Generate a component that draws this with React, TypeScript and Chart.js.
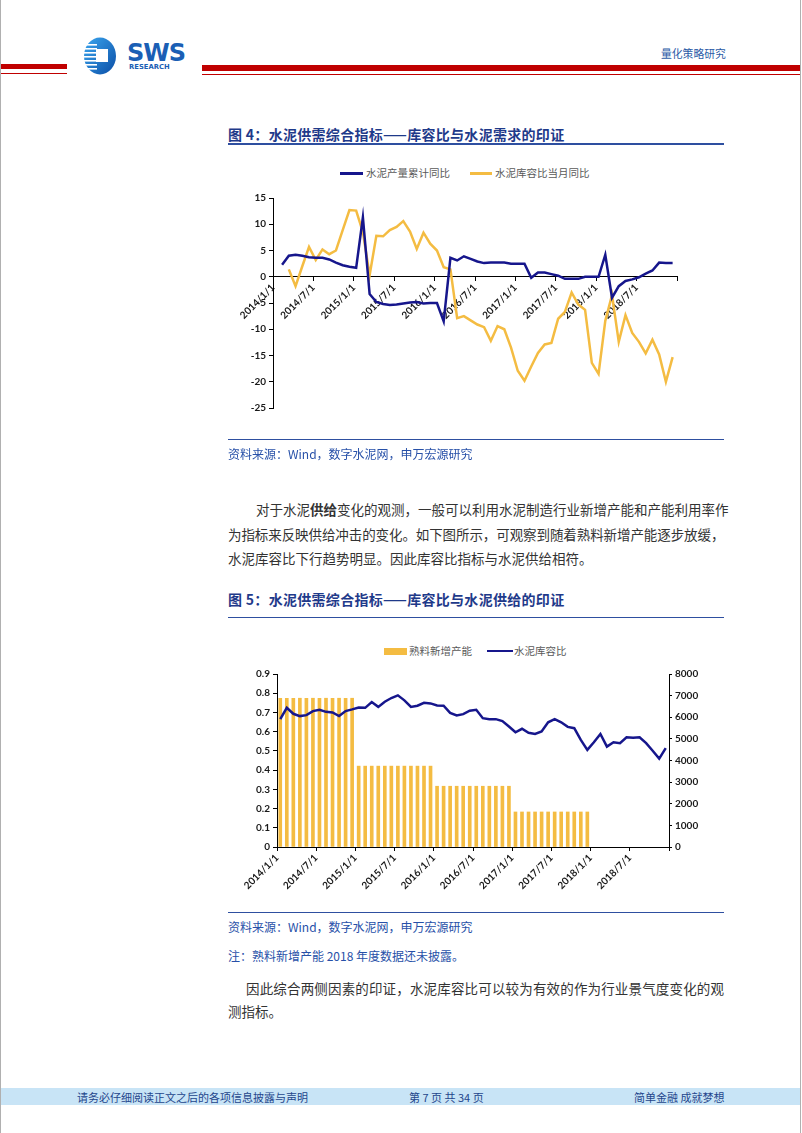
import React, { useEffect, useRef } from 'react';
import { Chart, registerables } from 'chart.js';

Chart.register(...registerables);

// ---------------- data ----------------
const xTickLabels = ['2014/1/1', '2014/7/1', '2015/1/1', '2015/7/1', '2016/1/1', '2016/7/1', '2017/1/1', '2017/7/1', '2018/1/1', '2018/7/1'];

// Figure 4 (monthly, months counted from 2014/1)
const productionStartMonth = 1; // 2014/2
const productionYoY = [
  2.3, 4.0, 4.2, 4.0, 3.7, 3.6, 3.6, 3.3, 2.7, 2.2, 1.9, 1.7,
  11.3, -3.3, -4.8, -5.2, -5.4, -5.3, -5.1, -4.9, -4.8, -5.1, -5.0, -5.0,
  -8.5, 3.6, 3.1, 3.9, 3.4, 2.9, 2.6, 2.7, 2.7, 2.7, 2.5, 2.5,
  2.5, -0.2, 0.8, 0.8, 0.5, 0.2, -0.4, -0.4, -0.4, 0.0, 0.0, 0.0,
  4.2, -4.0, -1.8, -0.8, -0.5, -0.1, 0.6, 1.2, 2.7, 2.6, 2.6,
];
const ratioYoYStartMonth = 2; // 2014/3
const ratioYoY = [
  1.4, -1.8, 2.0, 5.7, 3.2, 5.2, 4.3, 5.0, 8.9, 12.7,
  12.6, 8.5, 0.3, 7.8, 7.7, 8.9, 9.5, 10.6, 8.6, 5.3, 8.4, 6.3,
  5.0, 1.8, 1.4, -7.9, -7.5, -8.3, -9.1, -9.6, -12.2, -9.4, -10.0, -13.5,
  -17.9, -19.8, -17.1, -14.5, -12.9, -12.6, -8.0, -6.7, -3.0, -5.3, -6.3, -16.4,
  -18.5, -8.4, -3.5, -12.4, -7.3, -10.7, -12.4, -14.6, -12.0, -14.8, -20.0, -15.3,
];

// Figure 5
const inventoryRatioStartMonth = 0; // 2014/1
const inventoryRatio = [
  0.665, 0.724, 0.693, 0.681, 0.686, 0.707, 0.714, 0.703, 0.700, 0.681, 0.707, 0.716,
  0.726, 0.724, 0.754, 0.729, 0.756, 0.775, 0.789, 0.763, 0.729, 0.735, 0.750, 0.747,
  0.736, 0.735, 0.698, 0.684, 0.691, 0.709, 0.714, 0.670, 0.665, 0.665, 0.655, 0.627,
  0.597, 0.615, 0.594, 0.588, 0.601, 0.649, 0.665, 0.649, 0.625, 0.618, 0.557, 0.505,
  0.545, 0.588, 0.522, 0.545, 0.540, 0.571, 0.568, 0.571, 0.540, 0.501, 0.460, 0.514,
];
const clinkerYears = [2014, 2015, 2016, 2017];
const clinkerNewCapacity = [6880, 3740, 2810, 1620];

// ---------------- style ----------------
const NAVY = '#16168c';
const GOLD = '#f4bc42';
const CJK = '"Noto Sans CJK SC", "Noto Sans", sans-serif';
const TICK_FONT = { family: 'Lato, "DejaVu Sans", sans-serif', size: 10, weight: 'bold' as const };
const TICK_COLOR = '#1a1a1a';

const toPoints = (start: number, values: number[], offset: number) =>
  values.map((v, i) => ({ x: start + i + offset, y: v }));

const monthLabel = (v: number) => {
  const idx = Math.round(v / 6);
  return Math.abs(v - idx * 6) < 1e-6 && idx < xTickLabels.length ? xTickLabels[idx] : '';
};

function Fig4Chart() {
  const ref = useRef<HTMLCanvasElement>(null);
  useEffect(() => {
    if (!ref.current) return;
    const chart = new Chart(ref.current, {
      type: 'line',
      data: {
        datasets: [
          {
            label: '水泥产量累计同比',
            data: toPoints(productionStartMonth, productionYoY, 0.35),
            borderColor: NAVY,
            borderWidth: 2.5,
            pointRadius: 0,
            tension: 0,
          },
          {
            label: '水泥库容比当月同比',
            data: toPoints(ratioYoYStartMonth, ratioYoY, 0.35),
            borderColor: GOLD,
            borderWidth: 2.5,
            pointRadius: 0,
            tension: 0,
          },
        ],
      },
      options: {
        animation: false,
        responsive: false,
        devicePixelRatio: 1,
        layout: { padding: { left: 0, right: 47, top: 48, bottom: 32 } },
        plugins: { legend: { display: false }, tooltip: { enabled: false } },
        scales: {
          x: {
            type: 'linear',
            min: 0,
            max: 60,
            position: { y: 0 } as any,
            ticks: {
              stepSize: 6,
              autoSkip: false,
              minRotation: 45,
              maxRotation: 45,
              font: TICK_FONT,
              color: TICK_COLOR,
              padding: 1,
              callback: (v: any) => monthLabel(Number(v)),
            },
            grid: { drawOnChartArea: false, drawTicks: true, tickLength: 4, color: '#000' },
            border: { color: '#000', width: 1 },
          },
          y: {
            min: -25,
            max: 15,
            ticks: { stepSize: 5, font: TICK_FONT, color: TICK_COLOR, padding: 3, callback: (v: any) => String(v) },
            grid: { drawOnChartArea: false, drawTicks: true, tickLength: 4, color: '#000' },
            border: { color: '#000', width: 1 },
            afterFit: (s: any) => { s.width = 45; },
          },
        },
      },
    });
    return () => chart.destroy();
  }, []);
  return <canvas ref={ref} width={496} height={290} style={{ width: 496, height: 290, display: 'block' }} />;
}

function Fig5Chart() {
  const ref = useRef<HTMLCanvasElement>(null);
  useEffect(() => {
    if (!ref.current) return;
    const barPoints: { x: number; y: number }[] = [];
    clinkerYears.forEach((yr, k) => {
      for (let m = 0; m < 12; m++) {
        barPoints.push({ x: (yr - 2014) * 12 + m + 0.5, y: clinkerNewCapacity[k] });
      }
    });
    const chart = new Chart(ref.current, {
      type: 'bar',
      data: {
        datasets: [
          {
            type: 'line',
            label: '水泥库容比',
            data: toPoints(inventoryRatioStartMonth, inventoryRatio, 0.5),
            borderColor: NAVY,
            borderWidth: 2.5,
            pointRadius: 0,
            tension: 0,
            yAxisID: 'y',
          } as any,
          {
            type: 'bar',
            label: '熟料新增产能',
            data: barPoints,
            backgroundColor: GOLD,
            barThickness: 3,
            grouped: false,
            yAxisID: 'y1',
          },
        ],
      },
      options: {
        animation: false,
        responsive: false,
        devicePixelRatio: 1,
        layout: { padding: { left: 0, right: 0, top: 52, bottom: 0 } },
        plugins: { legend: { display: false }, tooltip: { enabled: false } },
        scales: {
          x: {
            type: 'linear',
            min: 0,
            max: 60,
            offset: false,
            position: 'bottom',
            ticks: {
              stepSize: 6,
              autoSkip: false,
              minRotation: 45,
              maxRotation: 45,
              font: TICK_FONT,
              color: TICK_COLOR,
              padding: 1,
              callback: (v: any) => monthLabel(Number(v)),
            },
            grid: { drawOnChartArea: false, drawTicks: true, tickLength: 4, color: '#000', offset: false },
            border: { color: '#000', width: 1 },
            afterFit: (s: any) => { s.height = 65; },
          },
          y: {
            position: 'left',
            min: 0,
            max: 0.9,
            ticks: {
              stepSize: 0.1,
              font: TICK_FONT,
              color: TICK_COLOR,
              padding: 3,
              callback: (v: any) => String(Number(Number(v).toFixed(1))),
            },
            grid: { drawOnChartArea: false, drawTicks: true, tickLength: 4, color: '#000' },
            border: { color: '#000', width: 1 },
            afterFit: (s: any) => { s.width = 49; },
          },
          y1: {
            position: 'right',
            min: 0,
            max: 8000,
            ticks: {
              stepSize: 1000,
              font: TICK_FONT,
              color: TICK_COLOR,
              padding: 3,
              callback: (v: any) => String(Math.round(Number(v))),
            },
            grid: { drawOnChartArea: false, drawTicks: true, tickLength: 3, color: '#000' },
            border: { color: '#000', width: 1 },
            afterFit: (s: any) => { s.width = 55; },
          },
        },
      },
    });
    return () => chart.destroy();
  }, []);
  return <canvas ref={ref} width={496} height={290} style={{ width: 496, height: 290, display: 'block' }} />;
}

// ---------------- page helpers ----------------
const abs = (x: number, y: number, extra: React.CSSProperties = {}): React.CSSProperties => ({
  position: 'absolute', left: x, top: y, ...extra,
});

function TextLine(props: { x: number; cy: number; size: number; color: string; children: React.ReactNode; bold?: boolean; width?: number; justify?: boolean; ls?: number }) {
  const h = props.size + 6;
  return (
    <div
      style={{
        position: 'absolute',
        left: props.x,
        top: props.cy - h / 2,
        height: h,
        lineHeight: `${h}px`,
        fontSize: props.size,
        color: props.color,
        fontFamily: CJK,
        fontWeight: props.bold ? 700 : 400,
        whiteSpace: 'nowrap',
        width: props.width,
        textAlign: props.justify ? 'justify' : 'left',
        textAlignLast: props.justify ? 'justify' : 'auto',
        letterSpacing: props.ls ?? 0,
      } as React.CSSProperties}
    >
      {props.children}
    </div>
  );
}

function Rule(props: { x: number; y: number; w: number; h: number; color: string }) {
  return <div style={abs(props.x, props.y, { width: props.w, height: props.h, background: props.color })} />;
}

function Logo() {
  return (
    <svg style={abs(80, 34)} width={112} height={44} viewBox="80 34 112 44">
      <defs>
        <linearGradient id="lg" x1="0" y1="0" x2="1" y2="1">
          <stop offset="0" stopColor="#3aa6ef" />
          <stop offset="1" stopColor="#0b4ea6" />
        </linearGradient>
      </defs>
      <ellipse cx={100} cy={56} rx={16} ry={18.5} fill="url(#lg)" />
      {[44, 48, 52, 56, 60, 64, 68].map((y) => (
        <rect key={y} x={84} y={y} width={13} height={1.6} fill="#ffffff" />
      ))}
      <rect x={96} y={49} width={12} height={13} fill="#ffffff" />
      <text x={127} y={61} fontFamily='"DejaVu Sans", sans-serif' fontWeight={700} fontSize={24} fill="#1b5fb5" letterSpacing={-1}>SWS</text>
      <text x={129} y={68.5} fontFamily='"DejaVu Sans", sans-serif' fontWeight={700} fontSize={6.8} fill="#1b5fb5">RESEARCH</text>
    </svg>
  );
}

function LegendLine(props: { x: number; y: number; w: number; color: string }) {
  return <div style={abs(props.x, props.y - 1.25, { width: props.w, height: 2.5, background: props.color })} />;
}

export default function App() {
  const titleColor = '#1f3a8a';
  const srcColor = '#2750a8';
  const bodyColor = '#333333';
  const legendColor = '#595959';
  return (
    <div style={{ position: 'absolute', left: 0, top: 0, width: 802, height: 1133, background: '#ffffff', overflow: 'hidden', fontFamily: CJK }}>
      {/* page borders */}
      <Rule x={0} y={0} w={1} h={1133} color="#b0b0b0" />
      <Rule x={800} y={0} w={1} h={1133} color="#b0b0b0" />

      {/* header */}
      <Rule x={1} y={63.5} w={66} h={5.5} color="#c00000" />
      <Rule x={1} y={73} w={66} h={1.3} color="#c00000" />
      <Rule x={202} y={65} w={598} h={5.5} color="#c00000" />
      <Rule x={202} y={73.5} w={598} h={1.3} color="#c00000" />
      <Logo />
      <TextLine x={661} cy={53} size={10.8} color="#2a5aa6">量化策略研究</TextLine>

      {/* Figure 4 */}
      <TextLine x={228} cy={134} size={14} color={titleColor} bold ls={0.3}>图 4：水泥供需综合指标——库容比与水泥需求的印证</TextLine>
      <Rule x={228} y={143} w={496} h={1.5} color="#2e4fa0" />
      <LegendLine x={340} y={173.5} w={23} color={NAVY} />
      <TextLine x={366} cy={173.5} size={10.5} color={legendColor}>水泥产量累计同比</TextLine>
      <LegendLine x={470} y={173.5} w={22} color={GOLD} />
      <TextLine x={495} cy={173.5} size={10.5} color={legendColor}>水泥库容比当月同比</TextLine>
      <div style={abs(228, 150)}>
        <Fig4Chart />
      </div>
      <Rule x={228} y={439} w={496} h={1.3} color="#2e4fa0" />
      <TextLine x={228} cy={454} size={12} color={srcColor}>资料来源：Wind，数字水泥网，申万宏源研究</TextLine>

      {/* Body paragraph */}
      <TextLine x={256} cy={510} size={13.5} color={bodyColor} width={468} justify>
        对于水泥<b>供给</b>变化的观测，一般可以利用水泥制造行业新增产能和产能利用率作
      </TextLine>
      <TextLine x={228} cy={534.5} size={13.5} color={bodyColor} width={496} justify ls={-0.4}>
        为指标来反映供给冲击的变化。如下图所示，可观察到随着熟料新增产能逐步放缓，
      </TextLine>
      <TextLine x={228} cy={558.5} size={13.5} color={bodyColor}>
        水泥库容比下行趋势明显。因此库容比指标与水泥供给相符。
      </TextLine>

      {/* Figure 5 */}
      <TextLine x={228} cy={599} size={14} color={titleColor} bold ls={0.3}>图 5：水泥供需综合指标——库容比与水泥供给的印证</TextLine>
      <Rule x={228} y={616.5} w={496} h={1.5} color="#2e4fa0" />
      <div style={abs(384, 648, { width: 23, height: 6.5, background: GOLD })} />
      <TextLine x={409} cy={651} size={10.5} color={legendColor}>熟料新增产能</TextLine>
      <LegendLine x={487} y={651} w={26} color={NAVY} />
      <TextLine x={514} cy={651} size={10.5} color={legendColor}>水泥库容比</TextLine>
      <div style={abs(228, 622)}>
        <Fig5Chart />
      </div>
      <Rule x={228} y={911.5} w={496} h={1.3} color="#2e4fa0" />
      <TextLine x={228} cy={926.5} size={12} color={srcColor}>资料来源：Wind，数字水泥网，申万宏源研究</TextLine>
      <TextLine x={228} cy={956} size={12} color={srcColor}>注：熟料新增产能 2018 年度数据还未披露。</TextLine>

      <TextLine x={246} cy={988.5} size={13.5} color={bodyColor} width={478} justify>
        因此综合两侧因素的印证，水泥库容比可以较为有效的作为行业景气度变化的观
      </TextLine>
      <TextLine x={228} cy={1012} size={13.5} color={bodyColor}>测指标。</TextLine>

      {/* footer */}
      <Rule x={1} y={1088} w={799} h={17} color="#c8e4f6" />
      <TextLine x={77} cy={1097} size={11} color="#24468c">请务必仔细阅读正文之后的各项信息披露与声明</TextLine>
      <TextLine x={409} cy={1097} size={11} color="#24468c">第 7 页 共 34 页</TextLine>
      <TextLine x={634} cy={1097} size={11} color="#24468c">简单金融 成就梦想</TextLine>
    </div>
  );
}
